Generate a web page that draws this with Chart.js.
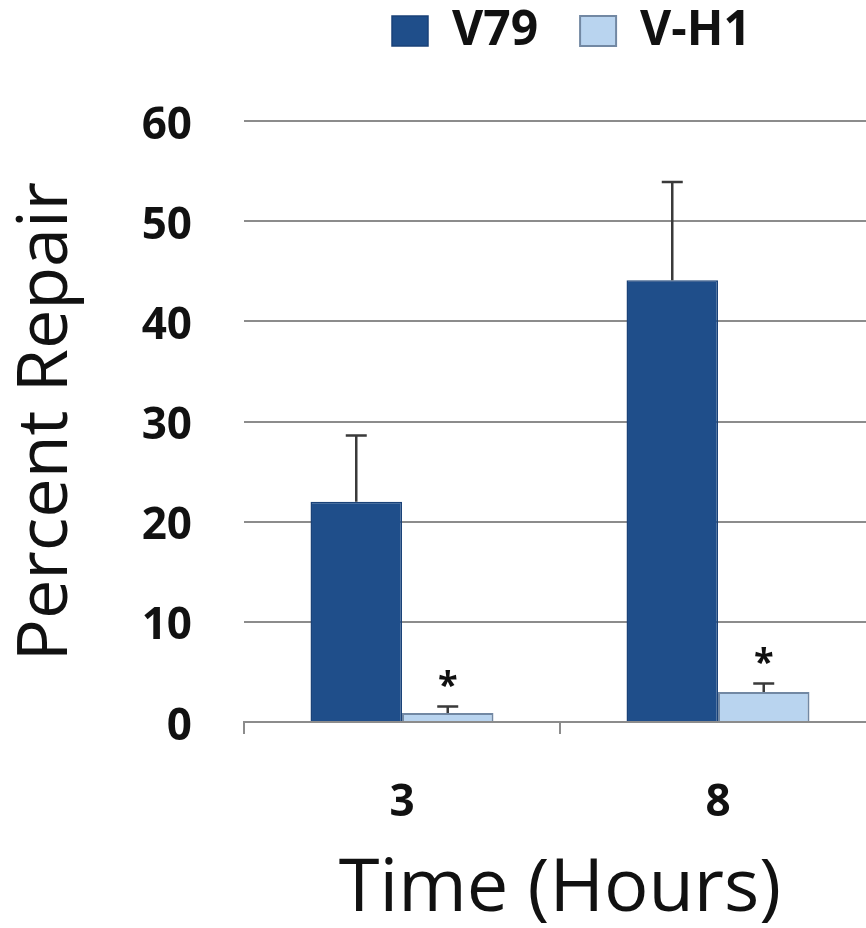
<!DOCTYPE html>
<html><head><meta charset="utf-8">
<script src="https://cdn.jsdelivr.net/npm/chart.js@4.4.1/dist/chart.umd.min.js"></script>
<style>
html,body{margin:0;padding:0;background:#fff;overflow:hidden;width:866px;height:928px}
#wrap{width:876px;height:928px}
</style>
</head><body><div id="wrap"><canvas id="c" width="876" height="928"></canvas></div>
<script>
// ---- data ----
const categories = ['3', '8'];
const seriesNames = ['V79', 'V-H1'];
const v79Mean = [22.0, 44.1];
const v79Err = [6.6, 9.8];
const vh1Mean = [0.9, 3.0];
const vh1Err = [0.65, 0.85];
const vh1Significant = [true, true];
const yTicks = [0, 10, 20, 30, 40, 50, 60];

const FONT = "'Open Sans', 'Liberation Sans', sans-serif";
const INK = '#111111';
const GRID = '#8c8c8c';

const errorBarPlugin = {
  id: 'errorBars',
  afterDatasetsDraw(chart) {
    const ctx = chart.ctx;
    const ys = chart.scales.y;
    chart.data.datasets.forEach((ds, i) => {
      const meta = chart.getDatasetMeta(i);
      meta.data.forEach((bar, j) => {
        const top = ys.getPixelForValue(ds.data[j] + ds.errors[j]);
        ctx.save();
        ctx.strokeStyle = '#3a3a3a';
        ctx.lineWidth = 2.5;
        ctx.beginPath();
        ctx.moveTo(bar.x, bar.y);
        ctx.lineTo(bar.x, top);
        ctx.moveTo(bar.x - 10.5, top);
        ctx.lineTo(bar.x + 10.5, top);
        ctx.stroke();
        if (ds.significant && ds.significant[j]) {
          ctx.font = 'bold 36px ' + FONT;
          ctx.fillStyle = INK;
          ctx.textAlign = 'center';
          ctx.textBaseline = 'alphabetic';
          const m = ctx.measureText('*');
          const off = (m.actualBoundingBoxAscent - m.actualBoundingBoxDescent) / 2;
          ctx.fillText('*', bar.x, top - 27 + off);
        }
        ctx.restore();
      });
    });
  }
};

const legendPlacement = {
  id: 'legendPlacement',
  beforeInit(chart) {
    const lg = chart.legend;
    if (lg) {
      const fit = lg.fit;
      lg.fit = function () { fit.call(this); this.height = 121; };
    }
  },
  afterLayout(chart) {
    const lg = chart.legend;
    if (!lg || !lg.lineWidths) return;
    const pad = lg.options.labels.padding;
    const x0 = (lg.left + pad + lg.right - lg.lineWidths[0]) / 2;
    const dx = 392 - x0;
    lg.left += dx; lg.right += dx;
    const h = lg.bottom - lg.top;
    lg.top = 7 - pad; lg.bottom = lg.top + h;
  }
};

new Chart(document.getElementById('c'), {
  type: 'bar',
  data: {
    labels: categories,
    datasets: [
      { label: seriesNames[0], data: v79Mean, errors: v79Err,
        backgroundColor: '#1f4e8a', borderColor: '#1a4278', borderWidth: 1.5 },
      { label: seriesNames[1], data: vh1Mean, errors: vh1Err, significant: vh1Significant,
        backgroundColor: '#b9d4ef', borderColor: '#7288a3', borderWidth: 2 }
    ]
  },
  options: {
    responsive: false,
    animation: false,
    devicePixelRatio: 1,
    layout: { padding: 0 },
    datasets: { bar: { categoryPercentage: 0.579, barPercentage: 1 } },
    plugins: {
      tooltip: { enabled: false },
      legend: {
        display: true,
        position: 'top',
        labels: {
          font: { family: FONT, size: 48, weight: 'bold' },
          color: INK,
          boxWidth: 36,
          boxHeight: 30,
          padding: 42
        }
      }
    },
    scales: {
      x: {
        grid: { offset: true, drawOnChartArea: false, drawTicks: true, tickLength: 12, color: GRID, lineWidth: 2 },
        border: { display: true, color: GRID, width: 2 },
        ticks: { font: { family: FONT, size: 44, weight: 'bold' }, color: INK, padding: 43, maxRotation: 0 },
        title: { display: true, text: 'Time (Hours)', font: { family: FONT, size: 74, lineHeight: 1 }, color: INK, padding: { top: 0, bottom: 1 } },
        afterFit(s) { s.height = 206; }
      },
      y: {
        min: 0, max: 60,
        afterBuildTicks(s) { s.ticks = yTicks.map(v => ({ value: v })); },
        ticks: { font: { family: FONT, size: 44, weight: 'bold' }, color: INK, padding: 52, labelOffset: 5 },
        grid: { drawTicks: false, color: GRID, lineWidth: 2 },
        border: { display: false },
        title: { display: true, text: 'Percent Repair', font: { family: FONT, size: 70 }, color: INK, padding: { top: 5, bottom: 0 } },
        afterFit(s) { s.width = 244; }
      }
    }
  },
  plugins: [errorBarPlugin, legendPlacement]
});
</script>
</body></html>
